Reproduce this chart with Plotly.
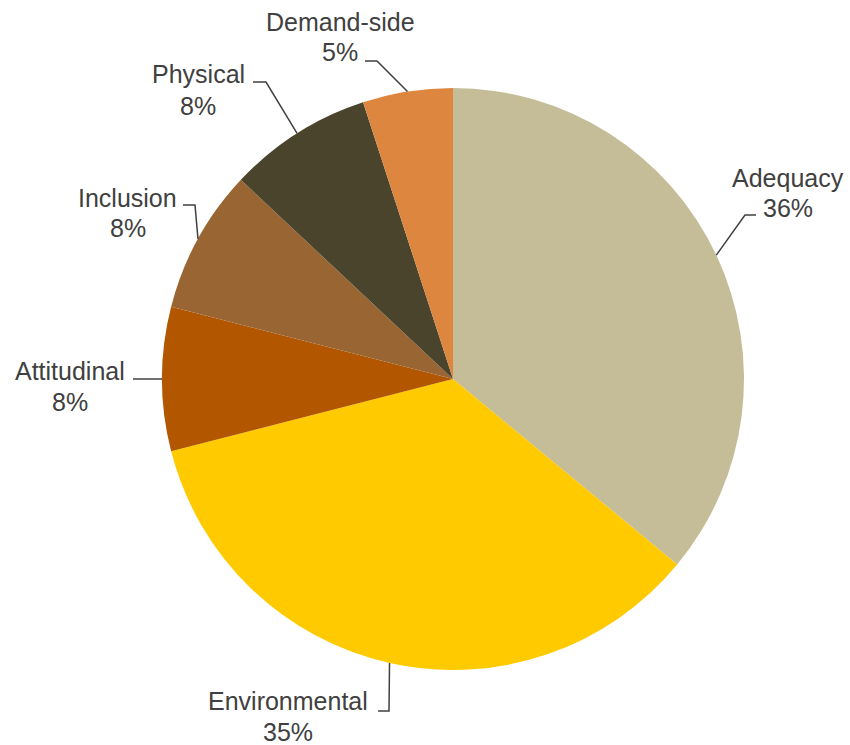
import math
import plotly.graph_objects as go

# Share of items by category (clockwise from 12 o'clock)
categories = ["Adequacy", "Environmental", "Attitudinal", "Inclusion", "Physical", "Demand-side"]
shares = [36, 35, 8, 8, 8, 5]
colors = ["#C5BD98", "#FFCA00", "#B35600", "#996633", "#4A442D", "#DD8640"]

# Label layout in pixels: text centre, elbow point of the leader, end of the leader
label_centers = [(788, 193), (288, 716), (70, 386), (128, 213), (198, 90), (340, 37)]
leader_elbows = [(745, 215), (389, 711), (150, 379), (195, 205), (266, 82), (377, 61)]
leader_ends = [(756, 215), (378, 711), (133, 379), (183, 205), (253, 82), (365, 61)]

W, H = 850, 745
CX, CY, R = 453, 379, 291
TEXT = "#404040"
FONT = "Liberation Sans, Arial, sans-serif"
LINE_GAP = 31


def px(x, y):
    return x / W, 1 - y / H


fig = go.Figure(
    go.Pie(
        labels=categories,
        values=shares,
        sort=False,
        direction="clockwise",
        rotation=0,
        marker=dict(colors=colors, line=dict(width=0)),
        textinfo="none",
        hoverinfo="label+percent",
        showlegend=False,
        domain=dict(x=[(CX - R) / W, (CX + R) / W], y=[(H - CY - R) / H, (H - CY + R) / H]),
    )
)

total = sum(shares)
cum = 0
annotations = []
shapes = []
for name, v, (tx, ty), (ex, ey), (hx, hy) in zip(categories, shares, label_centers, leader_elbows, leader_ends):
    mid = 2 * math.pi * (cum + v / 2) / total
    cum += v
    ax_, ay_ = CX + R * math.sin(mid), CY - R * math.cos(mid)
    p0, p1, p2 = px(ax_, ay_), px(ex, ey), px(hx, hy)
    shapes.append(dict(
        type="path", xref="paper", yref="paper",
        path=f"M {p0[0]},{p0[1]} L {p1[0]},{p1[1]} L {p2[0]},{p2[1]}",
        line=dict(color=TEXT, width=1.5),
    ))
    for text, dy in ((name, -LINE_GAP / 2), (f"{round(100 * v / total)}%", LINE_GAP / 2)):
        x, y = px(tx, ty + dy)
        annotations.append(dict(
            x=x, y=y, xref="paper", yref="paper", xanchor="center", yanchor="middle",
            text=text, showarrow=False, align="center",
            font=dict(family=FONT, size=25, color=TEXT),
        ))

fig.update_layout(
    width=W, height=H,
    margin=dict(l=0, r=0, t=0, b=0),
    paper_bgcolor="white", plot_bgcolor="white",
    annotations=annotations, shapes=shapes,
)

fig.write_html("out.html")
